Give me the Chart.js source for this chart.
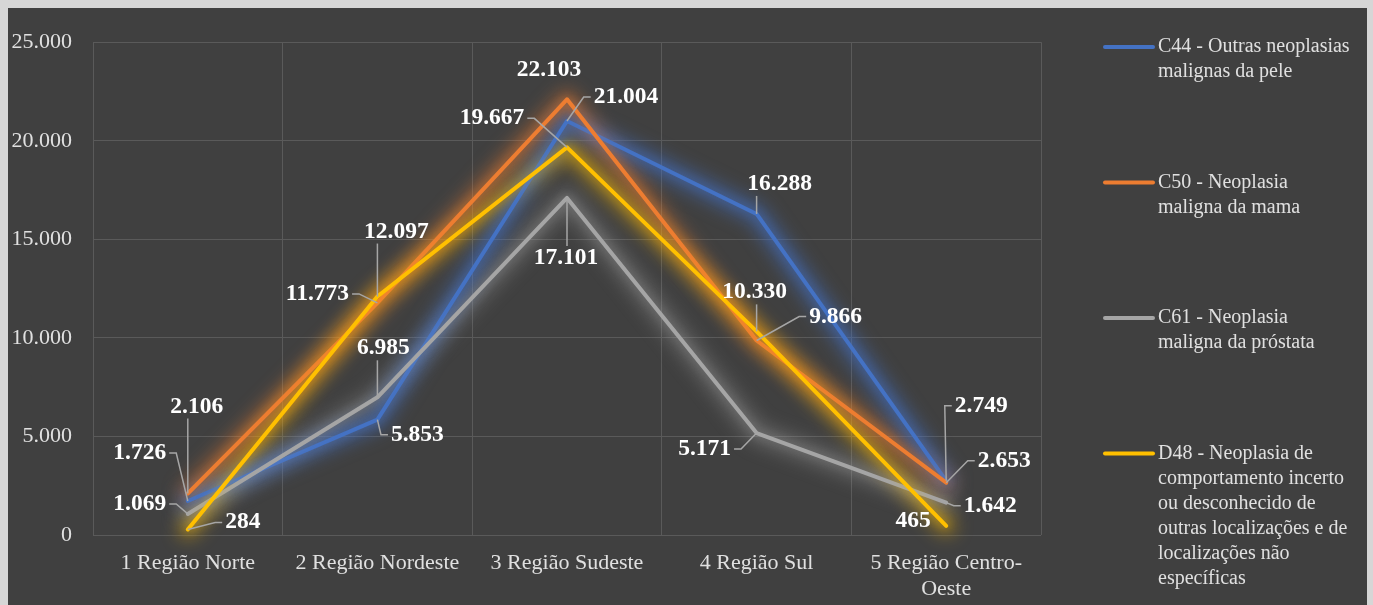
<!DOCTYPE html>
<html>
<head>
<meta charset="utf-8">
<script src="https://cdn.jsdelivr.net/npm/chart.js@4.4.0/dist/chart.umd.min.js"></script>
<style>
  html, body { margin: 0; padding: 0; background: #d6d6d6; }
  #wrap { position: absolute; left: 8px; top: 8px; width: 1359px; height: 597px; background: #404040; }
  .fontprobe { position: absolute; left: -9999px; top: 0; font-family: 'Liberation Serif'; }
</style>
</head>
<body>
<span class="fontprobe">Região 0123 <b>0123</b></span>
<div id="wrap"><canvas id="myChart"></canvas></div>
<script>
// --- dados ---
const categories = ['1 Região Norte', '2 Região Nordeste', '3 Região Sudeste', '4 Região Sul', ['5 Região Centro-', 'Oeste']];
const c44 = [1726, 5853, 21004, 16288, 2749];
const c50 = [2106, 11773, 22103, 9866, 2653];
const c61 = [1069, 6985, 17101, 5171, 1642];
const d48 = [284, 12097, 19667, 10330, 465];
const seriesNames = [
  ['C44 - Outras neoplasias', 'malignas da pele'],
  ['C50 - Neoplasia', 'maligna da mama'],
  ['C61 - Neoplasia', 'maligna da próstata'],
  ['D48 - Neoplasia de', 'comportamento incerto', 'ou desconhecido de', 'outras localizações e de', 'localizações não', 'específicas']
];
const yMin = 0, yMax = 25000, yStep = 5000;

// posição dos rótulos (deslocamento do texto em relação ao ponto) e se tem linha guia
const labelOffsets = [
  [[-48, -48, 1], [40, 15, 1], [59, -24, 1], [23, -30, 1], [35, -75, 1]],
  [[9, -87, 1], [-60, -9, 1], [-18, -29, 0], [79, -24, 1], [58, -22, 1]],
  [[-48, -10, 1], [6, -49, 1], [-1, 60, 1], [-52, 16, 1], [44, 3, 1]],
  [[55, -7, 1], [19, -65, 1], [-75, -29, 1], [-2, -39, 1], [-33, -5, 0]]
];

const SERIF = "Liberation Serif";
const fmt = v => String(v).replace(/\B(?=(\d{3})+(?!\d))/g, '.');

function makeSet(data, color, glow, order) {
  return {
    data: data,
    borderColor: color,
    backgroundColor: color,
    glowColor: glow,
    borderWidth: 4,
    pointRadius: 0,
    tension: 0,
    borderCapStyle: 'round',
    borderJoinStyle: 'round',
    clip: 40,
    order: order
  };
}

// halo desfocado por baixo das linhas
const glowPlugin = {
  id: 'glow',
  beforeDatasetsDraw(chart) {
    const ctx = chart.ctx;
    ctx.save();
    ctx.filter = 'blur(9px)';
    ctx.lineJoin = 'round';
    ctx.lineCap = 'round';
    for (let i = chart.data.datasets.length - 1; i >= 0; i--) {
      const ds = chart.data.datasets[i];
      const pts = chart.getDatasetMeta(i).data;
      ctx.strokeStyle = ds.glowColor;
      ctx.lineWidth = 18;
      ctx.beginPath();
      pts.forEach((p, k) => k ? ctx.lineTo(p.x, p.y) : ctx.moveTo(p.x, p.y));
      ctx.stroke();
    }
    ctx.restore();
  },
  beforeDatasetDraw(chart, args) {
    const ds = chart.data.datasets[args.index];
    chart.ctx.save();
    chart.ctx.shadowColor = ds.glowColor;
    chart.ctx.shadowBlur = 10;
  },
  afterDatasetDraw(chart) {
    chart.ctx.restore();
  }
};

// rótulos de dados com linhas guia
const labelPlugin = {
  id: 'labels',
  afterDatasetsDraw(chart) {
    const ctx = chart.ctx;
    ctx.save();
    ctx.font = 'bold 23.5px "' + SERIF + '"';
    ctx.textAlign = 'center';
    ctx.textBaseline = 'middle';
    chart.data.datasets.forEach((ds, i) => {
      const meta = chart.getDatasetMeta(i);
      meta.data.forEach((pt, j) => {
        const off = labelOffsets[i][j];
        const cx = pt.x + off[0], cy = pt.y + off[1];
        const txt = fmt(ds.data[j]);
        const w = ctx.measureText(txt).width;
        if (off[2]) {
          const left = cx - w / 2 - 3, right = cx + w / 2 + 3;
          const top = cy - 12, bottom = cy + 12;
          ctx.strokeStyle = '#a6a6a6';
          ctx.lineWidth = 1.5;
          ctx.beginPath();
          if (pt.x < left || pt.x > right) {
            const sx = pt.x < left ? left : right;
            const dir = pt.x < left ? -1 : 1;
            ctx.moveTo(sx, cy);
            ctx.lineTo(sx + dir * 7, cy);
            ctx.lineTo(pt.x, pt.y);
          } else {
            const sy = pt.y < top ? top : bottom;
            ctx.moveTo(pt.x, sy);
            ctx.lineTo(pt.x, pt.y);
          }
          ctx.stroke();
        }
        ctx.fillStyle = '#ffffff';
        ctx.fillText(txt, cx, cy);
      });
    });
    ctx.restore();
  }
};

// legenda à direita com quebra de linha
const legendPlugin = {
  id: 'sideLegend',
  afterDraw(chart) {
    const ctx = chart.ctx;
    ctx.save();
    ctx.font = '20px "' + SERIF + '"';
    ctx.textAlign = 'left';
    ctx.textBaseline = 'middle';
    chart.data.datasets.forEach((ds, i) => {
      const y = 39 + i * 135.5;
      ctx.strokeStyle = ds.borderColor;
      ctx.lineWidth = 4;
      ctx.lineCap = 'round';
      ctx.beginPath();
      ctx.moveTo(1097, y);
      ctx.lineTo(1145, y);
      ctx.stroke();
      ctx.fillStyle = '#e0e0e0';
      seriesNames[i].forEach((line, k) => {
        ctx.fillText(line, 1150, y + k * 25, 205);
      });
    });
    ctx.restore();
  }
};

function draw() {
  const ctx = document.getElementById('myChart').getContext('2d');
  new Chart(ctx, {
    type: 'line',
    data: {
      labels: categories,
      datasets: [
        makeSet(c44, '#4472c4', 'rgba(68,114,196,0.6)', 4),
        makeSet(c50, '#ed7d31', 'rgba(237,125,49,0.5)', 3),
        makeSet(c61, '#a5a5a5', 'rgba(165,165,165,0.4)', 2),
        makeSet(d48, '#ffc000', 'rgba(255,192,0,0.5)', 1)
      ]
    },
    options: {
      responsive: true,
      maintainAspectRatio: false,
      animation: false,
      layout: { padding: { left: 0, right: 326, top: 23, bottom: 0 } },
      plugins: {
        legend: { display: false },
        tooltip: { enabled: false }
      },
      scales: {
        x: {
          offset: true,
          grid: { offset: true, color: '#5a5a5a', drawTicks: false },
          border: { display: false },
          ticks: { color: '#e0e0e0', font: { family: SERIF, size: 22 }, padding: 15, maxRotation: 0, autoSkip: false },
          afterFit(s) { s.height = 70; }
        },
        y: {
          min: yMin,
          max: yMax,
          grid: { color: '#5a5a5a', drawTicks: false },
          border: { display: false },
          ticks: { stepSize: yStep, callback: v => fmt(v), color: '#e0e0e0', font: { family: SERIF, size: 22 }, padding: 21 },
          afterFit(s) { s.width = 85; }
        }
      }
    },
    plugins: [glowPlugin, labelPlugin, legendPlugin]
  });
}

Promise.all([
  document.fonts.load('20px "Liberation Serif"'),
  document.fonts.load('bold 22px "Liberation Serif"')
]).then(draw, draw);
</script>
</body>
</html>
